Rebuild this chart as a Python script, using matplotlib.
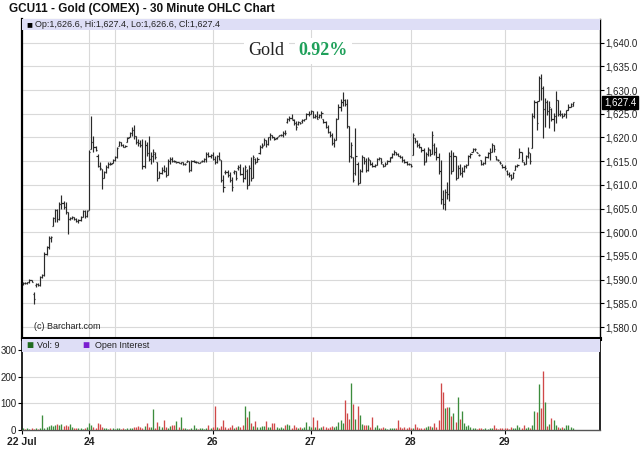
import matplotlib
matplotlib.use("Agg")
import matplotlib.pyplot as plt
from matplotlib.patches import Rectangle

# ---------------- data (30-minute OHLC bars, per session day) ----------------
day_labels = ["22 Jul", "24", "25", "26", "27", "28", "29"]
day_shown = [True, True, False, True, True, True, True]

jul22 = [(1589.2,1589.6,1588.9,1589.4),(1589.4,1589.6,1589.0,1589.3),(1589.3,1589.6,1589.1,1589.5),
         (1589.5,1590.1,1589.4,1589.9),(1589.9,1590.0,1589.5,1589.6),(1587.0,1587.3,1584.9,1586.0),
         (1588.8,1589.2,1588.5,1589.0),(1589.0,1589.4,1588.6,1588.8),(1588.8,1590.8,1588.7,1590.5),
         (1590.5,1591.2,1590.4,1591.0),(1591.0,1595.8,1590.8,1595.5),(1595.5,1597.2,1595.3,1596.8),
         (1596.8,1599.3,1596.5,1598.9),(1598.9,1599.3,1597.9,1599.0),(1601.4,1603.2,1601.4,1603.0),
         (1603.0,1605.0,1602.1,1604.7),(1604.7,1604.9,1602.1,1602.8),(1602.8,1606.3,1602.5,1606.0),
         (1606.0,1607.9,1605.0,1606.2),(1606.2,1606.7,1604.9,1605.4),(1605.4,1606.3,1603.9,1604.2),
         (1604.2,1604.3,1599.6,1602.8),(1602.8,1603.3,1602.5,1603.0),(1603.0,1603.4,1602.8,1603.2),
         (1603.2,1603.3,1602.7,1602.9),(1602.9,1603.0,1602.1,1602.4),(1602.4,1602.8,1601.9,1602.6),
         (1602.6,1603.5,1602.4,1603.3),(1603.3,1604.6,1603.2,1604.4),(1604.4,1604.6,1603.0,1603.5),
         (1603.5,1604.6,1603.3,1604.5)]
jul24 = [(1604.6,1617.3,1604.6,1617.0),(1617.5,1624.5,1617.5,1619.0),(1619.0,1620.4,1617.0,1618.0),
         (1618.0,1618.3,1617.2,1617.4),(1616.2,1616.5,1613.7,1614.0),(1614.0,1614.8,1613.2,1613.5),
         (1613.4,1613.4,1609.2,1611.5),(1611.5,1613.0,1611.4,1612.8),(1612.8,1614.1,1612.6,1613.8),
         (1613.8,1614.8,1613.6,1614.5),(1614.5,1614.8,1614.2,1614.4),(1614.6,1615.5,1614.6,1615.2)]
jul25 = [(1615.2,1616.2,1615.1,1615.9),(1615.9,1618.0,1615.6,1617.8),(1618.3,1619.2,1618.2,1619.0),
         (1619.0,1619.1,1618.2,1618.4),(1618.4,1618.7,1618.0,1618.1),(1618.1,1618.4,1617.9,1618.3),
         (1619.0,1620.0,1619.0,1619.8),(1620.0,1621.1,1620.0,1620.9),(1620.9,1622.2,1620.4,1621.5),
         (1621.5,1622.6,1619.7,1620.3),(1620.3,1620.4,1618.7,1619.0),(1619.0,1619.7,1618.2,1618.8),
         (1618.8,1619.4,1618.0,1618.4),(1618.4,1619.7,1613.3,1614.0),(1614.0,1619.4,1613.6,1618.5),
         (1618.5,1619.0,1616.2,1616.8),(1616.8,1620.4,1615.0,1615.5),(1615.5,1616.9,1614.4,1616.0),
         (1616.0,1617.6,1614.8,1617.0),(1616.5,1616.9,1615.5,1615.8),(1614.8,1614.8,1610.9,1611.5),
         (1611.5,1613.0,1611.4,1612.6),(1612.6,1613.7,1612.3,1613.2),(1613.2,1614.1,1612.7,1613.0),
         (1613.0,1613.7,1611.6,1612.0),(1612.0,1615.5,1612.0,1615.1),(1615.1,1615.8,1614.4,1615.5),
         (1615.5,1615.8,1614.8,1615.1),(1615.1,1615.2,1614.8,1615.0),(1614.8,1614.9,1614.6,1614.8),
         (1614.8,1614.9,1614.6,1614.7),(1614.7,1614.9,1614.5,1614.8),(1614.8,1614.9,1614.3,1614.4),
         (1614.4,1614.6,1614.2,1614.4),(1614.8,1615.2,1614.8,1615.1),(1615.1,1615.1,1612.7,1613.2),
         (1613.2,1615.2,1613.0,1615.0),(1615.0,1615.2,1614.9,1615.1),(1614.8,1615.0,1614.6,1614.8),
         (1614.8,1614.9,1614.6,1614.7),(1614.7,1614.9,1614.6,1614.8),(1615.0,1615.2,1614.9,1615.1),
         (1615.1,1615.6,1614.8,1615.4),(1615.4,1616.9,1614.8,1616.5),(1616.5,1617.0,1615.8,1616.0),
         (1616.0,1616.6,1615.6,1616.3)]
jul26 = [(1616.3,1617.0,1615.2,1615.5),(1615.5,1616.0,1614.5,1614.8),(1614.8,1616.3,1614.6,1616.0),
         (1616.0,1617.0,1615.2,1615.5),(1615.2,1615.2,1610.6,1611.0),(1611.0,1612.0,1608.4,1609.5),
         (1612.8,1613.1,1612.4,1612.7),(1612.7,1613.1,1611.6,1612.0),(1612.0,1612.7,1610.6,1611.0),
         (1611.0,1611.6,1608.8,1609.5),(1612.8,1613.1,1612.4,1612.9),(1612.9,1612.9,1611.0,1611.5),
         (1613.5,1614.1,1613.1,1613.8),(1613.8,1614.5,1612.0,1612.4),(1612.4,1613.8,1610.6,1611.5),
         (1611.5,1614.1,1611.3,1613.8),(1613.0,1613.4,1609.1,1610.0),(1610.0,1614.1,1610.0,1613.5),
         (1613.5,1615.9,1610.9,1611.5),(1611.5,1616.3,1611.5,1615.8),(1615.5,1615.6,1614.5,1614.8),
         (1614.8,1615.9,1614.8,1615.5),(1616.8,1618.4,1616.6,1618.0),(1618.0,1618.8,1617.7,1618.2),
         (1618.5,1619.9,1618.4,1619.5),(1619.5,1619.5,1618.1,1618.6),(1618.6,1620.2,1618.4,1620.0),
         (1620.0,1620.9,1619.5,1620.5),(1620.5,1620.6,1619.9,1620.2),(1620.2,1620.2,1619.5,1619.7),
         (1619.9,1620.2,1619.7,1620.0),(1620.4,1620.6,1620.3,1620.5),(1620.5,1620.7,1620.3,1620.6),
         (1620.6,1621.3,1620.2,1621.0),(1621.0,1621.6,1620.6,1620.9),(1623.2,1624.1,1623.1,1623.8),
         (1623.8,1624.5,1623.4,1624.2),(1624.2,1624.9,1623.8,1624.0),(1623.6,1623.8,1622.7,1623.0),
         (1623.0,1623.4,1621.6,1622.2),(1622.8,1623.4,1622.7,1623.2),(1623.2,1623.3,1622.9,1623.1),
         (1623.4,1623.8,1623.1,1623.6),(1623.6,1624.0,1623.4,1623.8),(1623.8,1625.2,1623.8,1624.9),
         (1624.9,1625.5,1624.5,1625.0)]
jul27 = [(1625.0,1625.9,1624.9,1625.6),(1625.6,1625.6,1624.1,1624.4),(1624.4,1624.9,1624.1,1624.6),
         (1624.6,1625.6,1623.8,1624.0),(1624.3,1624.9,1624.1,1624.7),(1624.7,1625.6,1624.2,1625.2),
         (1623.8,1623.8,1623.1,1623.3),(1623.3,1623.4,1622.0,1622.3),(1622.3,1622.7,1620.9,1621.2),
         (1621.2,1621.3,1620.2,1620.5),(1620.5,1620.9,1618.4,1618.8),(1618.8,1619.9,1618.1,1619.5),
         (1619.5,1624.1,1619.5,1623.8),(1623.8,1627.0,1623.8,1626.5),(1626.5,1628.1,1625.6,1627.5),
         (1627.5,1629.6,1626.6,1628.0),(1628.0,1628.1,1626.6,1627.0),(1627.0,1628.1,1622.0,1622.5),
         (1622.5,1622.5,1614.9,1616.0),(1616.0,1619.1,1615.6,1618.5),(1615.9,1615.9,1610.6,1611.0),
         (1612.5,1622.0,1612.0,1616.0),(1614.5,1614.9,1609.9,1610.5),(1610.5,1613.4,1610.4,1613.0),
         (1613.0,1616.3,1612.7,1615.8),(1615.8,1615.9,1614.5,1615.0),(1615.0,1615.6,1612.7,1613.2),
         (1613.2,1615.9,1613.0,1615.5),(1615.2,1615.2,1614.1,1614.5),(1614.5,1614.9,1613.8,1614.0),
         (1614.0,1614.5,1613.8,1614.2),(1614.2,1615.6,1614.2,1615.5),(1615.5,1615.9,1615.2,1615.6),
         (1615.6,1615.6,1614.5,1614.9),(1614.5,1614.5,1613.8,1614.0),(1614.0,1614.9,1613.9,1614.5),
         (1614.5,1615.2,1614.5,1615.0),(1615.0,1615.9,1614.8,1615.6),(1615.8,1616.7,1615.6,1616.5),
         (1616.5,1617.4,1616.3,1617.0),(1617.0,1617.0,1616.3,1616.6),(1616.6,1616.7,1616.0,1616.2),
         (1616.2,1616.3,1615.6,1615.8),(1615.8,1616.0,1614.9,1615.2),(1615.2,1615.4,1614.6,1614.8),
         (1614.8,1615.0,1614.3,1614.5),(1614.5,1614.7,1614.2,1614.4)]
jul28 = [(1614.4,1614.5,1613.8,1614.0),(1616.3,1620.9,1616.3,1620.5),(1619.9,1619.9,1618.8,1619.2),
         (1619.2,1619.5,1618.1,1618.5),(1618.5,1618.8,1617.7,1618.0),(1618.0,1618.1,1617.0,1617.3),
         (1617.3,1617.7,1614.2,1614.8),(1615.0,1617.0,1614.8,1616.5),(1616.5,1618.1,1616.0,1617.5),
         (1617.4,1617.5,1616.0,1616.5),(1616.5,1621.3,1616.5,1620.5),(1618.5,1618.8,1616.3,1617.0),
         (1617.0,1618.1,1615.2,1615.8),(1615.8,1616.7,1612.4,1613.0),(1613.0,1615.2,1606.0,1607.0),
         (1607.0,1608.9,1605.0,1606.0),(1606.0,1609.2,1604.6,1608.5),(1608.5,1610.6,1607.1,1608.0),
         (1608.0,1617.0,1606.7,1616.0),(1616.0,1617.4,1612.4,1613.0),(1613.0,1617.0,1612.9,1616.0),
         (1616.0,1616.0,1611.0,1611.5),(1611.5,1614.2,1611.4,1613.5),(1613.5,1614.5,1612.1,1612.5),
         (1612.5,1613.8,1611.7,1613.0),(1613.0,1614.2,1612.8,1614.0),(1614.0,1614.5,1613.5,1614.3),
         (1614.3,1616.3,1614.2,1616.0),(1616.0,1616.7,1615.6,1616.5),(1617.0,1617.7,1617.0,1617.5),
         (1617.5,1617.7,1617.2,1617.6),(1617.0,1617.0,1616.7,1616.8),(1616.4,1616.5,1616.2,1616.3),
         (1615.2,1615.2,1614.2,1614.5),(1614.5,1614.9,1614.2,1614.6),(1614.6,1616.0,1614.5,1615.8),
         (1615.8,1617.0,1615.7,1616.8),(1616.8,1617.7,1615.2,1617.0),(1617.0,1618.8,1617.0,1618.5),
         (1618.5,1618.5,1617.0,1617.5),(1616.0,1616.0,1615.2,1615.5),(1615.3,1615.5,1615.1,1615.2),
         (1614.9,1615.0,1614.5,1614.7),(1614.2,1614.4,1613.5,1613.8)]
jul29 = [(1613.8,1614.2,1613.1,1613.5),(1613.0,1613.1,1612.1,1612.4),(1612.4,1612.8,1611.7,1612.0),
         (1612.0,1612.4,1611.0,1611.5),(1611.5,1612.8,1611.5,1612.5),(1613.1,1614.2,1613.1,1614.0),
         (1614.0,1614.5,1613.8,1614.3),(1615.6,1617.7,1615.6,1617.0),(1617.0,1617.0,1614.9,1615.2),
         (1614.9,1614.9,1614.2,1614.5),(1614.5,1616.3,1614.5,1616.0),(1616.0,1618.1,1615.6,1617.0),
         (1616.7,1616.7,1614.5,1615.0),(1617.7,1625.2,1617.7,1624.5),(1624.5,1628.0,1624.1,1627.5),
         (1627.5,1627.7,1621.6,1623.0),(1627.7,1633.0,1627.7,1632.5),(1632.5,1633.3,1628.0,1630.5),
         (1630.5,1630.9,1619.9,1626.0),(1626.0,1628.4,1622.3,1627.5),(1627.5,1628.0,1624.8,1625.5),
         (1625.5,1627.7,1622.0,1626.5),(1626.0,1626.2,1623.4,1623.8),(1623.8,1625.2,1621.3,1624.5),
         (1624.5,1629.8,1623.0,1628.0),(1628.0,1628.0,1624.5,1625.0),(1625.0,1625.9,1624.5,1625.0),
         (1625.0,1625.2,1624.1,1624.5),(1624.5,1625.2,1624.5,1625.0),(1625.0,1625.9,1624.1,1625.8),
         (1625.8,1627.0,1625.7,1626.5),(1626.5,1627.3,1626.4,1627.0),(1626.6,1627.4,1626.6,1627.4)]

vol22 = [8,5,6,4,7,5,6,4,9,58,6,12,15,18,14,20,22,18,24,16,20,14,22,10,8,6,9,7,5,8,12]
vol24 = [26,18,10,8,25,22,12,8,6,5,7,6]
vol25 = [5,8,6,4,7,5,9,6,8,12,10,14,11,9,15,26,12,10,80,8,32,14,10,36,12,8,15,20,18,35,
         10,49,8,6,5,4,7,20,6,5,8,6,4,7,20,9]
vol26 = [12,90,10,8,14,39,10,6,12,20,8,10,14,12,18,90,48,71,28,15,35,12,10,14,16,35,12,10,25,25,
         12,8,10,6,20,22,20,8,20,10,6,12,8,10,31,14]
vol27 = [10,48,12,39,8,10,14,12,8,10,14,12,15,30,39,28,113,65,42,178,97,42,91,58,22,20,18,20,12,48,
         10,20,8,6,10,8,5,7,9,6,8,39,10,8,12,6,10]
vol28 = [8,6,22,10,8,6,9,12,15,15,10,26,12,36,178,145,84,86,86,52,65,30,126,42,71,26,14,20,10,8,
         6,5,8,6,4,7,5,6,8,17,6,5,8,6]
vol29 = [6,8,5,10,6,8,18,12,8,18,6,10,8,20,71,68,173,84,223,104,15,22,44,39,20,10,8,12,6,20,20,12,9]

price_ticks = [1580, 1585, 1590, 1595, 1600, 1605, 1610, 1615, 1620, 1625, 1630, 1635, 1640]
vol_ticks = [0, 100, 200, 300]
change_pct = 0.92
last = jul29[-1]
# ------------------------------------------------------------------------------

days = [jul22, jul24, jul25, jul26, jul27, jul28, jul29]
vols = [vol22, vol24, vol25, vol26, vol27, vol28, vol29]

bars = [b for d in days for b in d]
volume = [v for d in vols for v in d]
x = list(range(len(bars)))
opens = [b[0] for b in bars]
highs = [b[1] for b in bars]
lows = [b[2] for b in bars]
closes = [b[3] for b in bars]

day_starts = []
n = 0
for d in days:
    day_starts.append(n)
    n += len(d)

W, H = 640, 468
fig = plt.figure(figsize=(6.4, 4.68), dpi=100)
fig.patch.set_facecolor("white")

def fx(px): return px / W
def fy(py): return 1 - py / H

ax = fig.add_axes([fx(22), fy(338), fx(600) - fx(22), fy(19) - fy(338)])
axv = fig.add_axes([fx(22), fy(430), fx(600) - fx(22), fy(339) - fy(430)], sharex=ax)

sans = ["Liberation Sans", "DejaVu Sans"]
grid_c = "#d9d9d9"
xmin, xmax = -0.5, 270.8

# --- price panel
ax.set_xlim(xmin, xmax)
ax.set_ylim(1577.7, 1645.0)
for p in price_ticks:
    ax.axhline(p, color=grid_c, lw=0.8, zorder=0)
for s in day_starts[1:]:
    ax.axvline(s, color=grid_c, lw=0.8, zorder=0)
    axv.axvline(s, color=grid_c, lw=0.8, zorder=0)

bar_c = "#2a2a2a"
ax.vlines(x, lows, highs, color=bar_c, lw=0.85, zorder=3)
ax.hlines(opens, [i - 0.55 for i in x], x, color=bar_c, lw=0.85, zorder=3)
ax.hlines(closes, x, [i + 0.55 for i in x], color=bar_c, lw=0.85, zorder=3)

ax.yaxis.tick_right()
ax.set_yticks(price_ticks)
ax.set_yticklabels([f"{p:,.1f}" for p in price_ticks], fontsize=7, family=sans, color="#222222")
ax.tick_params(axis="y", length=3, pad=1, width=0.8)
ax.tick_params(axis="x", length=0, labelbottom=False)
for side, lw, c in [("left", 1.6, "black"), ("bottom", 2.2, "black"), ("right", 1.0, "black"), ("top", 0.8, "#999999")]:
    ax.spines[side].set_linewidth(lw)
    ax.spines[side].set_color(c)

# header band
ax.add_patch(Rectangle((0, 1 - 11 / 319), 1, 11 / 319, transform=ax.transAxes,
                       facecolor="#dedef6", edgecolor="none", zorder=4))
ax.text(0.007, 1 - 5.5 / 319, "■", transform=ax.transAxes, fontsize=7, family=sans,
        va="center", ha="left", color="black", zorder=5)
ax.text(0.022, 1 - 5.5 / 319,
        f"Op:{last[0]:,.1f}, Hi:{last[1]:,.1f}, Lo:{last[2]:,.1f}, Cl:{last[3]:,.1f}",
        transform=ax.transAxes, fontsize=6.5, family=sans, va="center", ha="left",
        color="#222222", zorder=5)

# Gold % label with white background
ax.text(0.392, 0.9, "Gold", transform=ax.transAxes, fontsize=13, family=["Liberation Serif", "DejaVu Serif"],
        color="#222222", va="center", ha="left", zorder=5,
        bbox=dict(facecolor="white", edgecolor="none", pad=3))
ax.text(0.479, 0.9, f"{change_pct:.2f}%", transform=ax.transAxes, fontsize=13,
        family=["Liberation Serif", "DejaVu Serif"], fontweight="bold",
        color="#1fa05a", va="center", ha="left", zorder=5,
        bbox=dict(facecolor="white", edgecolor="none", pad=3))

ax.text(0.02, 0.035, "(c) Barchart.com", transform=ax.transAxes, fontsize=6.5,
        family=sans, color="#222222", va="center", ha="left")

# last price tag
ax.text(1.007, last[3], f"{last[3]:,.1f}", transform=ax.get_yaxis_transform(),
        fontsize=7, family=sans, color="white", va="center", ha="left", zorder=6,
        bbox=dict(facecolor="black", edgecolor="black", pad=1.2), clip_on=False)

# --- volume panel
up_c, dn_c = "#3c8c3c", "#d04848"
vcols = [up_c if c >= o else dn_c for o, c in zip(opens, closes)]
axv.vlines(x, 0, volume, colors=vcols, lw=0.95, zorder=3)
axv.set_ylim(0, 343)
axv.set_xlim(xmin, xmax)
for v in vol_ticks[1:]:
    axv.axhline(v, color=grid_c, lw=0.8, zorder=0)
axv.set_yticks(vol_ticks)
axv.set_yticklabels([str(v) for v in vol_ticks], fontsize=7, family=sans, color="#222222")
axv.tick_params(axis="y", length=3, pad=1, width=0.8)
tick_pos = [xmin] + [s for s, show in zip(day_starts[1:], day_shown[1:]) if show]
tick_lab = [day_labels[0]] + [l for l, show in zip(day_labels[1:], day_shown[1:]) if show]
axv.set_xticks(tick_pos)
axv.set_xticklabels(tick_lab, fontsize=7.5, family=sans, fontweight="bold", color="#222222")
axv.tick_params(axis="x", length=3, pad=2, width=0.8)
for side, lw, c in [("left", 1.2, "black"), ("bottom", 1.0, "#555555"), ("right", 1.2, "black"), ("top", 2.2, "black")]:
    axv.spines[side].set_linewidth(lw)
    axv.spines[side].set_color(c)

axv.add_patch(Rectangle((0, 1 - 13 / 91), 1, 13 / 91, transform=axv.transAxes,
                        facecolor="#dedef6", edgecolor="none", zorder=4))
yb = 1 - 6.5 / 91
axv.text(0.007, yb, "■", transform=axv.transAxes, fontsize=8.5, family=sans, color="#1f6b1f",
         va="center", ha="left", zorder=5)
axv.text(0.026, yb, f"Vol: {volume[-1]}", transform=axv.transAxes, fontsize=6.5, family=sans,
         color="#222222", va="center", ha="left", zorder=5)
axv.text(0.105, yb, "■", transform=axv.transAxes, fontsize=8.5, family=sans, color="#7a1fd0",
         va="center", ha="left", zorder=5)
axv.text(0.126, yb, "Open Interest", transform=axv.transAxes, fontsize=6.5, family=sans,
         color="#222222", va="center", ha="left", zorder=5)

fig.text(fx(9), fy(9), "GCU11 - Gold (COMEX) - 30 Minute OHLC Chart", fontsize=8.5,
         family=sans, fontweight="bold", color="#111111", va="center", ha="left")

fig.savefig("out.png", dpi=100)
